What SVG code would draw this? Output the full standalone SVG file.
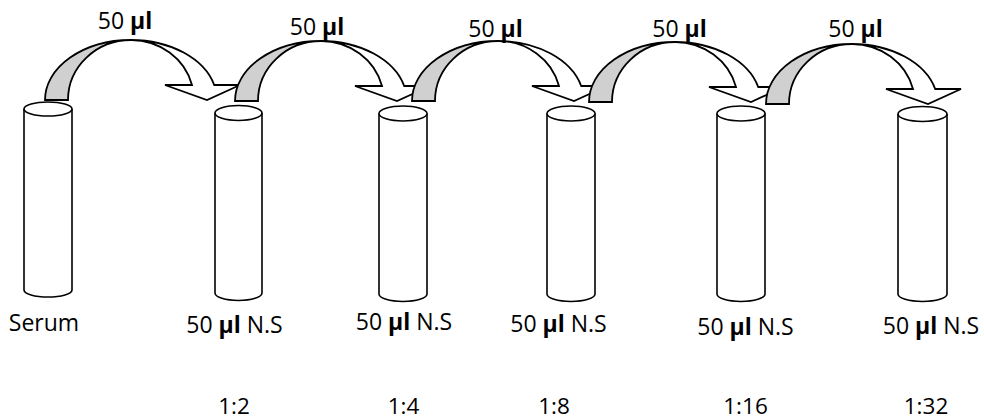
<svg xmlns="http://www.w3.org/2000/svg" width="984" height="420" viewBox="0 0 984 420">
  <style>
    .tube { fill: #ffffff; stroke: #000000; stroke-width: 1.6; }
    .band { fill: #d0d0d0; stroke: #000000; stroke-width: 1.8; stroke-linejoin: miter; }
    .head { fill: #ffffff; stroke: #000000; stroke-width: 1.8; stroke-linejoin: miter; }
    text { font-family: "Open Sans", "Noto Sans", "Liberation Sans", sans-serif; font-size: 23px; fill: #000000; text-anchor: middle; }
    .b { font-weight: bold; }
    .ratio { font-size: 22.5px; }
  </style>
  <defs>
    <!-- curved transfer arrow, origin at ellipse centre (base of left band) -->
    <g id="curved-arrow">
      <path class="band" d="M -86,0 A 86,60 0 0 1 0,-60 A 63,60 0 0 0 -63,0 Z"/>
      <path class="head" d="M 0,-60 A 86,60 0 0 1 83.2,-15 L 109,-15 L 76,0 L 34,-15 L 61,-15 A 63,60 0 0 0 0,-60 Z"/>
    </g>
  </defs>

  <!-- tubes -->
  <g id="tube-serum">
    <path class="tube" d="M 24,109 L 24,290 A 24,7 0 0 0 72,290 L 72,109"/>
    <ellipse class="tube" cx="48" cy="109" rx="24" ry="7"/>
    <text x="44" y="331">Serum</text>
  </g>
  <g id="tube-1-2">
    <path class="tube" d="M 215,113 L 215,293 A 23.5,7.5 0 0 0 262,293 L 262,113"/>
    <ellipse class="tube" cx="238.5" cy="113" rx="23.5" ry="7.5"/>
    <text x="234.5" y="333">50 <tspan class="b">µl</tspan> N.S</text>
    <text class="ratio" x="234" y="414">1:2</text>
  </g>
  <g id="tube-1-4">
    <path class="tube" d="M 379,113.5 L 379,294 A 24,7.5 0 0 0 427,294 L 427,113.5"/>
    <ellipse class="tube" cx="403" cy="113.5" rx="24" ry="7.5"/>
    <text x="404" y="330">50 <tspan class="b">µl</tspan> N.S</text>
    <text class="ratio" x="403.5" y="414">1:4</text>
  </g>
  <g id="tube-1-8">
    <path class="tube" d="M 547,113.5 L 547,294 A 24,7.5 0 0 0 595,294 L 595,113.5"/>
    <ellipse class="tube" cx="571" cy="113.5" rx="24" ry="7.5"/>
    <text x="558.5" y="332">50 <tspan class="b">µl</tspan> N.S</text>
    <text class="ratio" x="554" y="414">1:8</text>
  </g>
  <g id="tube-1-16">
    <path class="tube" d="M 717,113.5 L 717,294 A 24,7.5 0 0 0 765,294 L 765,113.5"/>
    <ellipse class="tube" cx="741" cy="113.5" rx="24" ry="7.5"/>
    <text x="745.5" y="335">50 <tspan class="b">µl</tspan> N.S</text>
    <text class="ratio" x="745.5" y="414">1:16</text>
  </g>
  <g id="tube-1-32">
    <path class="tube" d="M 898,114 L 898,294 A 24.5,7.5 0 0 0 947,294 L 947,114"/>
    <ellipse class="tube" cx="922.5" cy="114" rx="24.5" ry="7.5"/>
    <text x="931" y="334">50 <tspan class="b">µl</tspan> N.S</text>
    <text class="ratio" x="926" y="414">1:32</text>
  </g>

  <!-- transfer arrows -->
  <g id="connectors">
    <use href="#curved-arrow" x="131" y="100"/>
    <use href="#curved-arrow" x="321" y="101"/>
    <use href="#curved-arrow" x="498" y="101"/>
    <use href="#curved-arrow" x="675" y="102"/>
    <use href="#curved-arrow" x="852" y="104"/>
    <text x="125" y="29">50 <tspan class="b">µl</tspan></text>
    <text x="317" y="35">50 <tspan class="b">µl</tspan></text>
    <text x="495.5" y="37">50 <tspan class="b">µl</tspan></text>
    <text x="679.5" y="37">50 <tspan class="b">µl</tspan></text>
    <text x="855.5" y="37">50 <tspan class="b">µl</tspan></text>
  </g>
</svg>
